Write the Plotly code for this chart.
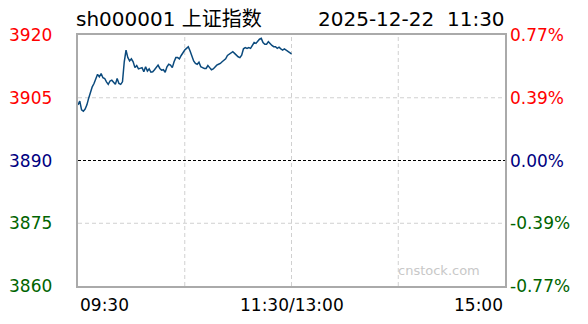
import plotly.graph_objects as go

# ---- data ----
minutes = list(range(0, 121))
prices = [
    3903.3, 3904.2, 3902.1, 3901.8, 3902.3, 3903.3, 3904.9, 3906.5, 3907.6, 3908.4,
    3909.5, 3910.6, 3910.0, 3910.8, 3909.8, 3909.6, 3908.8, 3908.2, 3909.0, 3909.2,
    3908.7, 3908.2, 3909.6, 3908.4, 3908.2, 3908.8, 3913.6, 3916.4, 3914.6, 3913.8,
    3914.3, 3913.6, 3912.2, 3912.7, 3911.9, 3912.0, 3912.2, 3911.2, 3912.4, 3911.4,
    3911.9, 3911.1, 3911.2, 3911.7, 3912.2, 3912.8, 3912.0, 3911.6, 3911.7, 3911.1,
    3912.4, 3913.0, 3912.8, 3912.2, 3913.6, 3914.6, 3914.6, 3914.3, 3915.1, 3915.9,
    3916.4, 3916.8, 3917.2, 3916.2, 3914.8, 3913.8, 3913.2, 3913.0, 3913.5, 3912.4,
    3912.2, 3912.0, 3912.0, 3912.7, 3912.2, 3911.7, 3911.9, 3912.4, 3912.8, 3913.0,
    3913.2, 3913.6, 3913.9, 3914.3, 3915.1, 3915.4, 3915.7, 3916.0, 3915.6, 3915.1,
    3914.8, 3914.6, 3915.2, 3916.7, 3917.0, 3916.8, 3917.0, 3916.8, 3917.5, 3918.2,
    3918.0, 3918.6, 3919.0, 3919.2, 3918.2, 3917.8, 3917.8, 3918.4, 3917.8, 3917.5,
    3917.2, 3917.2, 3916.8, 3917.1, 3916.7, 3916.4, 3916.7, 3916.4, 3916.0, 3915.7,
    3915.5,
]
prev_close = 3890
price_ticks = [3920, 3905, 3890, 3875, 3860]
pct_labels = ["0.77%", "0.39%", "0.00%", "-0.39%", "-0.77%"]
tick_colors = ["#ff0000", "#ff0000", "#000080", "#006400", "#006400"]
x_grid = [60, 120, 180]
x_tick_pos = [0, 120, 240]
x_tick_labels = ["09:30", "11:30/13:00", "15:00"]
x_tick_anchor = ["left", "center", "right"]
title_left = "sh000001 上证指数"
title_right = "2025-12-22\u00a0\u00a011:30"
watermark = "cnstock.com"

FONT = "DejaVu Sans, Noto Sans CJK SC, sans-serif"

fig = go.Figure()
fig.add_trace(go.Scatter(
    x=minutes, y=prices, mode="lines",
    line=dict(color="#0b4a7d", width=1.5),
    hoverinfo="skip", showlegend=False,
))

shapes = []
for gx in x_grid:
    shapes.append(dict(type="line", xref="x", yref="paper", x0=gx, x1=gx, y0=0, y1=1,
                       line=dict(color="#d0d0d0", width=1, dash="4px,3px"), layer="below"))
for v in price_ticks[1:-1]:
    if v == prev_close:
        shapes.append(dict(type="line", xref="paper", yref="y", x0=0, x1=1, y0=v, y1=v,
                           line=dict(color="#000000", width=1, dash="3px,2px"), layer="below"))
    else:
        shapes.append(dict(type="line", xref="paper", yref="y", x0=0, x1=1, y0=v, y1=v,
                           line=dict(color="#d0d0d0", width=1, dash="4px,3px"), layer="below"))

annotations = []
for v, p, c in zip(price_ticks, pct_labels, tick_colors):
    annotations.append(dict(xref="paper", yref="y", x=0, y=v, text=str(v), showarrow=False,
                            xanchor="right", yanchor="middle", xshift=-24,
                            font=dict(family=FONT, size=17, color=c)))
    annotations.append(dict(xref="paper", yref="y", x=1, y=v, text=p, showarrow=False,
                            xanchor="left", yanchor="middle", xshift=3,
                            font=dict(family=FONT, size=17, color=c)))
for xp, lab, anc in zip(x_tick_pos, x_tick_labels, x_tick_anchor):
    annotations.append(dict(xref="x", yref="paper", x=xp, y=0, text=lab, showarrow=False,
                            xanchor=anc, yanchor="top", yshift=-7,
                            font=dict(family=FONT, size=17, color="#000000")))
annotations.append(dict(xref="paper", yref="paper", x=0, y=1, text=title_left, showarrow=False,
                        xanchor="left", yanchor="bottom", yshift=2, xshift=-4,
                        font=dict(family=FONT, size=20, color="#000000")))
annotations.append(dict(xref="paper", yref="paper", x=1, y=1, text=title_right, showarrow=False,
                        xanchor="right", yanchor="bottom", yshift=2, xshift=2,
                        font=dict(family=FONT, size=20, color="#000000")))
annotations.append(dict(xref="paper", yref="paper", x=0.945, y=0.06, text=watermark, showarrow=False,
                        xanchor="right", yanchor="middle",
                        font=dict(family=FONT, size=13, color="#c8c8c8")))

fig.update_layout(
    width=588, height=324,
    margin=dict(l=78, r=83, t=35, b=38),
    paper_bgcolor="#ffffff", plot_bgcolor="#ffffff",
    xaxis=dict(range=[0, 240], showgrid=False, zeroline=False, showticklabels=False,
               showline=True, linecolor="#aaaaaa", linewidth=1.5, mirror=True, fixedrange=True),
    yaxis=dict(range=[3860, 3920], showgrid=False, zeroline=False, showticklabels=False,
               showline=True, linecolor="#aaaaaa", linewidth=1.5, mirror=True, fixedrange=True),
    shapes=shapes, annotations=annotations,
    showlegend=False,
)

fig.write_html("out.html", config={"displayModeBar": False})
